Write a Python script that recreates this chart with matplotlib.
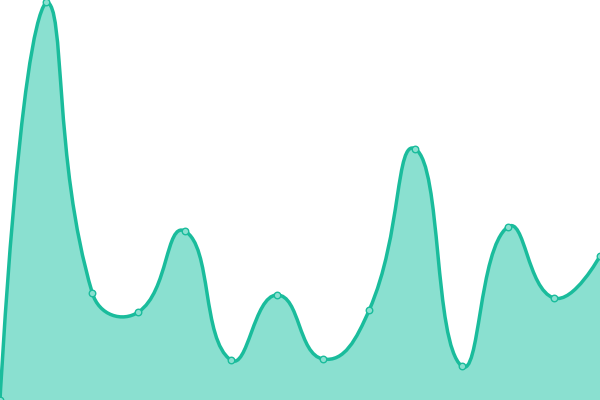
import numpy as np
import matplotlib
matplotlib.use('Agg')
import matplotlib.pyplot as plt
from matplotlib.path import Path
from matplotlib.patches import PathPatch

# values
categories = list(range(14))
values = [0, 398, 107, 88, 169, 40, 105, 41, 90, 251, 34, 173, 102, 144]

line_color = '#1abc9c'
fill_color = '#8ae0d0'


def smooth_path(xs, ys, smooth=0.5):
    # bezier control points like echarts' smooth line (with bounding constraint)
    n = len(xs)
    ymin, ymax = min(ys), max(ys)
    xmin, xmax = min(xs), max(xs)
    cps_in = []
    cps_out = []
    for i in range(n):
        x, y = xs[i], ys[i]
        if i == 0 or i == n - 1:
            cps_in.append((x, y))
            cps_out.append((x, y))
            continue
        px, py = xs[i - 1], ys[i - 1]
        nx, ny = xs[i + 1], ys[i + 1]
        vx, vy = nx - px, ny - py
        l0 = np.hypot(x - px, y - py)
        l1 = np.hypot(nx - x, ny - y)
        r = l1 / (l0 + l1)
        c0 = (x - vx * smooth * (1 - r), y - vy * smooth * (1 - r))
        c1 = (x + vx * smooth * r, y + vy * smooth * r)
        c0 = (min(max(c0[0], xmin), xmax), min(max(c0[1], ymin), ymax))
        c1 = (min(max(c1[0], xmin), xmax), min(max(c1[1], ymin), ymax))
        cps_in.append(c0)
        cps_out.append(c1)
    verts = [(xs[0], ys[0])]
    codes = [Path.MOVETO]
    for i in range(n - 1):
        verts += [cps_out[i], cps_in[i + 1], (xs[i + 1], ys[i + 1])]
        codes += [Path.CURVE4] * 3
    return verts, codes


fig = plt.figure(figsize=(6, 4), dpi=100)
ax = fig.add_axes([0, 0, 1, 1])
ax.set_xlim(0, 13)
ax.set_ylim(0, 400)
ax.axis('off')

# work in pixel-like units so the smoothing matches screen space
sx = 600 / 13
xs = [c * sx for c in categories]
verts, codes = smooth_path(xs, values)
verts = [(vx / sx, vy) for vx, vy in verts]

area_verts = verts + [(categories[-1], 0), (categories[0], 0), verts[0]]
area_codes = codes + [Path.LINETO, Path.LINETO, Path.CLOSEPOLY]
ax.add_patch(PathPatch(Path(area_verts, area_codes), facecolor=fill_color,
                       edgecolor='none', zorder=1))
ax.add_patch(PathPatch(Path(verts, codes), facecolor='none',
                       edgecolor=line_color, lw=2.5, zorder=2,
                       capstyle='round', joinstyle='round'))
ax.scatter(categories, values, s=22, facecolor=fill_color,
           edgecolor=line_color, linewidth=1, zorder=3, clip_on=False)

fig.savefig('out.png', dpi=100)
